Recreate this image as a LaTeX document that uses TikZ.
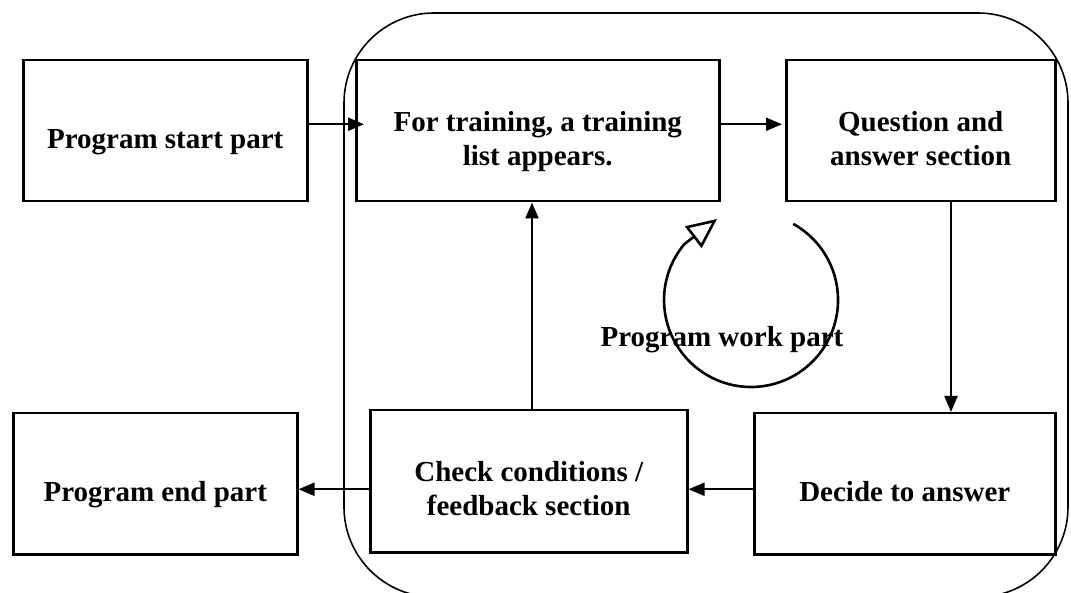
\documentclass[tikz,border=0pt]{standalone}
\usepackage{fontspec}
\setmainfont{Liberation Serif}
\usetikzlibrary{arrows.meta}
\newcommand\lowtext[1]{\raisebox{-17pt}[0pt][0pt]{\begin{tabular}{@{}c@{}}#1\end{tabular}}}
\begin{document}
\begin{tikzpicture}[x=1pt,y=-1pt,
  font=\fontsize{29}{34}\selectfont\bfseries,
  boxnode/.style={draw, line width=2.5pt, rectangle, inner sep=0pt, anchor=north west},
  flow/.style={line width=2.1pt, -{Triangle[length=16pt,width=13pt]}},
  container/.style={line width=1.6pt, rounded corners=90pt}]
\useasboundingbox (0,0) rectangle (1071,593);
\clip (0,0) rectangle (1071,593);
% container
\draw[container] (344,13) rectangle (1068,597);
% boxes
\node[boxnode, minimum width=284pt, minimum height=141pt] (start) at (22,59) {\lowtext{Program start part}};
\node[boxnode, minimum width=363pt, minimum height=141pt] (train) at (355,59) {\lowtext{For training, a training\\list appears.}};
\node[boxnode, minimum width=269pt, minimum height=141pt] (qa) at (785,59) {\lowtext{Question and\\answer section}};
\node[boxnode, minimum width=301pt, minimum height=141pt] (decide) at (753,412) {\lowtext{Decide to answer}};
\node[boxnode, minimum width=317pt, minimum height=142pt] (check) at (369,409) {\lowtext{Check conditions /\\feedback section}};
\node[boxnode, minimum width=284pt, minimum height=141pt] (end) at (12,412) {\lowtext{Program end part}};
% label
\node (work) at (722,340) {Program work part};
% connectors
\coordinate (upx) at (532,0);
\coordinate (dnx) at (951,0);
\draw[flow, shorten >=-9pt] ([yshift=6.5pt]start.east) -- ([yshift=6.5pt]train.west);
\draw[flow, shorten >=3pt] ([yshift=6.5pt]train.east) -- ([yshift=6.5pt]qa.west);
\draw[flow] (qa.south -| dnx) -- (decide.north -| dnx);
\draw[flow] ([yshift=-5.5pt]decide.west) -- ([yshift=-8pt]check.east);
\draw[flow] (check.north -| upx) -- (train.south -| upx);
\draw[flow] ([yshift=-8pt]check.west) -- ([yshift=-5.5pt]end.east);
% cycle arrow
\coordinate (cyc) at (793.2,223.9);
\coordinate (cyctip) at (717,219);
\draw[line width=2.6pt, -{Triangle[open, fill=white, length=30pt, width=27pt]}]
  (cyc) arc[start angle=61, end angle=-220, radius=87pt] -- (cyctip);
\end{tikzpicture}
\end{document}
